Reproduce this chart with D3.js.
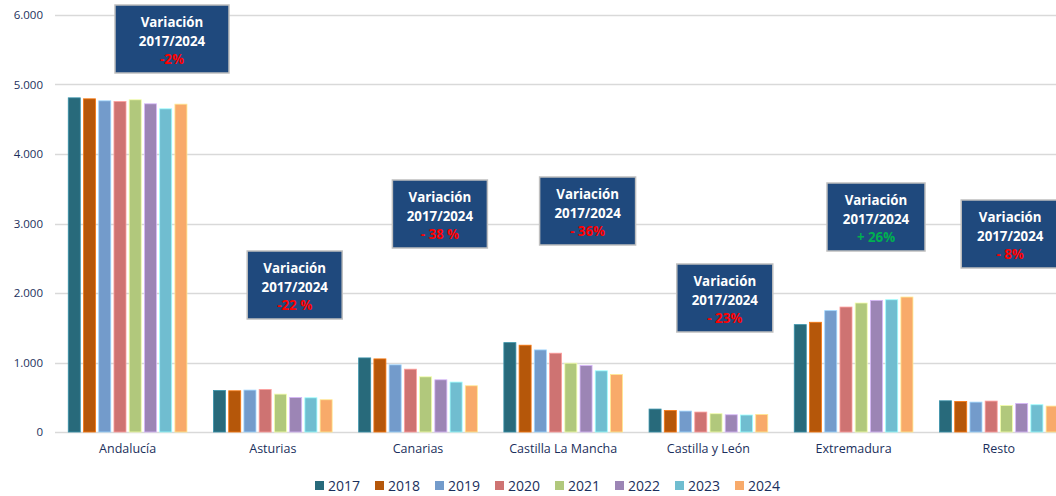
<!DOCTYPE html>
<html>
<head>
<meta charset="utf-8">
<script src="https://cdn.jsdelivr.net/npm/d3@7"></script>
<style>
    body { margin: 0; background: #fff; }
    text { font-family: "Open Sans", sans-serif; }
</style>
</head>
<body>
<div id="graph"></div>
<script>
// data
const regions = ["Andalucía", "Asturias", "Canarias", "Castilla La Mancha", "Castilla y León", "Extremadura", "Resto"];
const years = ["2017", "2018", "2019", "2020", "2021", "2022", "2023", "2024"];

const v2017 = [4808, 597, 1066, 1286, 330, 1545, 449];
const v2018 = [4794, 593, 1052, 1249, 310, 1579, 440];
const v2019 = [4765, 603, 966, 1181, 301, 1746, 430];
const v2020 = [4755, 612, 904, 1134, 287, 1798, 445];
const v2021 = [4780, 545, 794, 990, 263, 1856, 382];
const v2022 = [4722, 497, 751, 956, 248, 1894, 411];
const v2023 = [4650, 492, 718, 880, 244, 1903, 392];
const v2024 = [4717, 464, 665, 827, 253, 1942, 373];
const series = [v2017, v2018, v2019, v2020, v2021, v2022, v2023, v2024];

const yTicks = [0, 1000, 2000, 3000, 4000, 5000, 6000];

// "Variación 2017/2024" labels per region
const variations = ["-2%", "-22 %", "- 38 %", "- 36%", "- 23%", "+ 26%", "- 8%"];

// box placement (offset from the band start, top in px)
const boxDx = [60, 47, 47, 49, 41, 46, 35];
const boxTop = [5, 251, 180, 177, 264, 183, 200];
const boxW = [114, 95, 95, 96, 96, 98, 98];
const boxH = 68;

const colors = ["#286A7B", "#B5570A", "#739BCB", "#CE7372", "#B1C87C", "#9C85B5", "#70BDD0", "#F8AA6A"];

const W = 1056, H = 496;
const plot = { left: 55, top: 15, bottom: 432, step: 145.2 };

let svg = d3.select("#graph")
    .append("svg")
    .attr("width", W)
    .attr("height", H);

let x = d3.scaleBand()
    .domain(regions)
    .range([plot.left, plot.left + plot.step * regions.length]);

let xYear = d3.scaleBand()
    .domain(years)
    .range([0, x.bandwidth()])
    .paddingInner(0.21)
    .paddingOuter(0.87);

let y = d3.scaleLinear()
    .domain([0, 6000])
    .range([plot.bottom, plot.top]);

let es = d3.formatLocale({ decimal: ",", thousands: ".", grouping: [3], currency: ["", " €"] });
let fmt = es.format(",");

// gridlines
svg.append("g")
    .selectAll("line")
    .data(yTicks)
    .enter()
    .append("line")
    .attr("x1", plot.left)
    .attr("x2", W)
    .attr("y1", function (d) { return Math.round(y(d)) + 0.5; })
    .attr("y2", function (d) { return Math.round(y(d)) + 0.5; })
    .style("stroke", "#D9D9D9")
    .style("stroke-width", 1.3);

// y axis labels
let yAxis = svg.append("g")
    .attr("transform", "translate(" + plot.left + ",0)")
    .call(d3.axisLeft(y).tickValues(yTicks).tickFormat(fmt).tickSize(0).tickPadding(12));
yAxis.select(".domain").remove();
yAxis.selectAll("text")
    .style("font-family", "'Open Sans', sans-serif")
    .style("font-size", "11.5px")
    .style("fill", "#1B2F5C");

// bars
let groups = svg.append("g")
    .selectAll("g")
    .data(series)
    .enter()
    .append("g")
    .style("fill", function (d, i) { return colors[i]; })
    .style("stroke", function (d, i) { return d3.color(colors[i]).brighter(0.9); })
    .style("stroke-width", 0.8);

groups.selectAll("rect")
    .data(function (d, i) {
        return d.map(function (v, j) { return { region: regions[j], year: years[i], value: v }; });
    })
    .enter()
    .append("rect")
    .attr("x", function (d) { return x(d.region) + xYear(d.year); })
    .attr("width", xYear.bandwidth())
    .attr("y", function (d) { return y(d.value); })
    .attr("height", function (d) { return y(0) - y(d.value); });

// category labels
let xAxis = svg.append("g")
    .attr("transform", "translate(0," + plot.bottom + ")")
    .call(d3.axisBottom(x).tickSize(0).tickPadding(12));
xAxis.select(".domain").remove();
xAxis.selectAll("text")
    .style("font-family", "'Open Sans', sans-serif")
    .style("font-size", "12.5px")
    .style("fill", "#1B2F5C");

// variation boxes
let boxes = svg.append("g")
    .selectAll("g")
    .data(regions)
    .enter()
    .append("g")
    .attr("transform", function (d, i) {
        return "translate(" + (x(d) + boxDx[i]) + "," + boxTop[i] + ")";
    });

boxes.append("rect")
    .attr("width", function (d, i) { return boxW[i]; })
    .attr("height", boxH)
    .style("fill", "#1F497D")
    .style("stroke", "#BFBFBF")
    .style("stroke-width", 1.5);

let boxText = boxes.append("text")
    .attr("text-anchor", "middle")
    .style("font-size", "13.3px")
    .style("font-weight", "bold");

boxText.append("tspan")
    .attr("x", function (d, i) { return boxW[i] / 2; })
    .attr("y", 22)
    .style("fill", "#fff")
    .text("Variación");

boxText.append("tspan")
    .attr("x", function (d, i) { return boxW[i] / 2; })
    .attr("y", 40.5)
    .style("fill", "#fff")
    .text("2017/2024");

boxText.append("tspan")
    .attr("x", function (d, i) { return boxW[i] / 2; })
    .attr("y", 59)
    .style("fill", function (d, i) { return variations[i].indexOf("+") == 0 ? "#00B050" : "#FF0000"; })
    .text(function (d, i) { return variations[i]; });

// legend
let legend = svg.append("g")
    .selectAll("g")
    .data(years)
    .enter()
    .append("g")
    .attr("transform", function (d, i) { return "translate(" + (315 + i * 60) + ",481)"; });

legend.append("rect")
    .attr("width", 9)
    .attr("height", 9)
    .style("fill", function (d, i) { return colors[i]; });

legend.append("text")
    .attr("x", 13)
    .attr("y", 10)
    .style("font-size", "14px")
    .style("fill", "#1B2F5C")
    .text(function (d) { return d; });
</script>
</body>
</html>
